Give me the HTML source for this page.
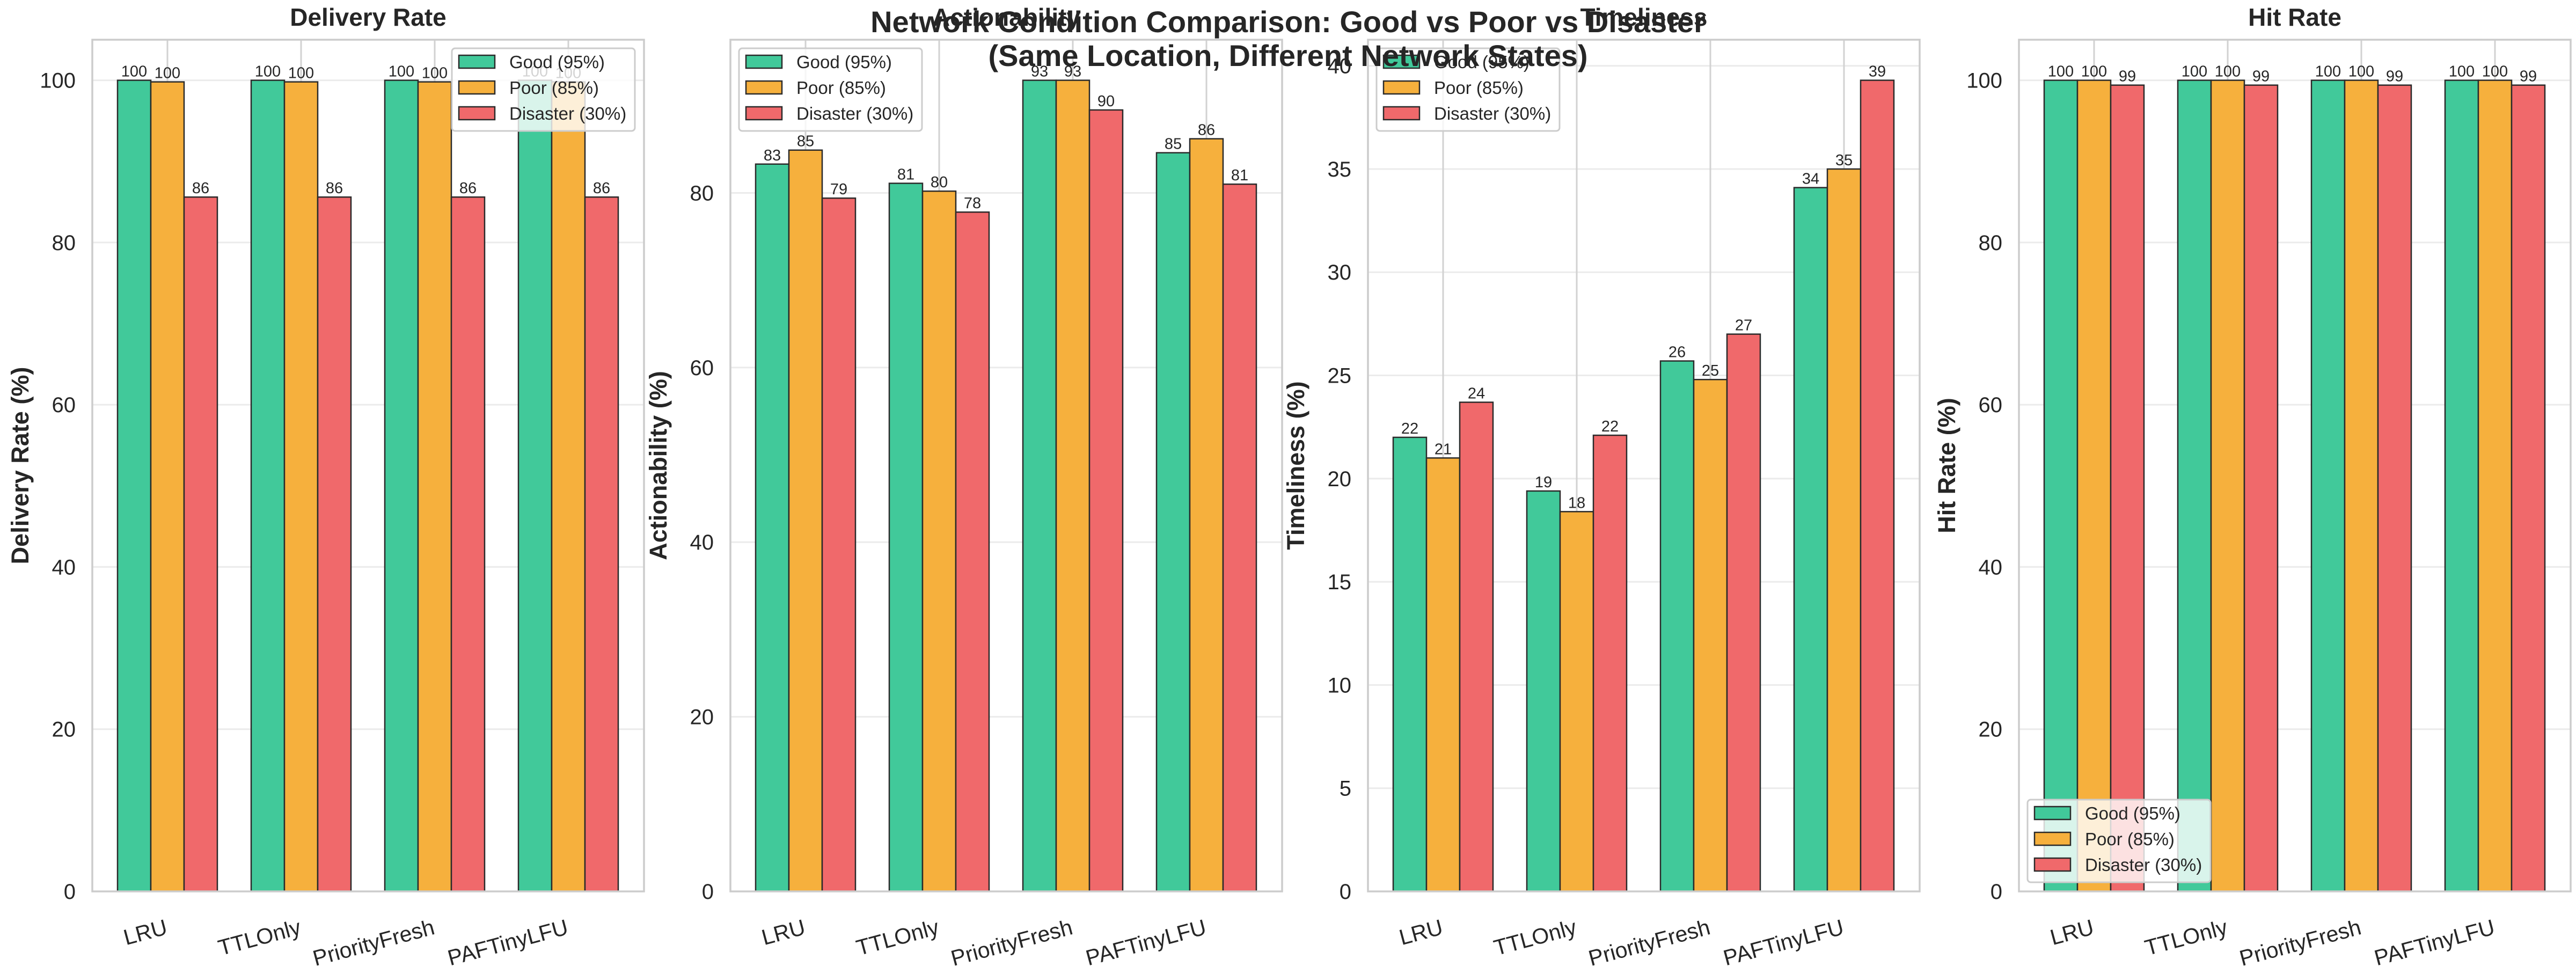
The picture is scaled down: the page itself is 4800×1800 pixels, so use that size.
<!DOCTYPE html>
<html><head><meta charset="utf-8"><style>
html,body{margin:0;padding:0;background:#fff;}
svg{display:block;font-family:"Liberation Sans",Arial,sans-serif;}
</style></head><body>
<svg id="chart" width="4800" height="1800" viewBox="0 0 4800 1800" xmlns="http://www.w3.org/2000/svg">
<rect width="4800" height="1800" fill="#fff"/>
</svg>
<script>
const categories = ["LRU","TTLOnly","PriorityFresh","PAFTinyLFU"];
const seriesNames = ["Good (95%)","Poor (85%)","Disaster (30%)"];
const deliveryGood = [100,100,100,100];
const deliveryPoor = [99.8,99.8,99.8,99.8];
const deliveryDisaster = [85.6,85.6,85.6,85.6];
const actionGood = [83.3,81.1,92.9,84.6];
const actionPoor = [84.9,80.2,92.9,86.2];
const actionDisaster = [79.4,77.8,89.5,81.0];
const timeGood = [22.0,19.4,25.7,34.1];
const timePoor = [21.0,18.4,24.8,35.0];
const timeDisaster = [23.7,22.1,27.0,39.3];
const hitGood = [100,100,100,100];
const hitPoor = [100,100,100,100];
const hitDisaster = [99.4,99.4,99.4,99.4];
const ticksDelivery = [0,20,40,60,80,100];
const ticksAction = [0,20,40,60,80];
const ticksTime = [0,5,10,15,20,25,30,35,40];
const ticksHit = [0,20,40,60,80,100];

const colors = ["#41c99a","#f6b03d","#f0696b"];
const NS = "http://www.w3.org/2000/svg";
const svg = document.getElementById("chart");
function mk(tag, attrs, parent){const e=document.createElementNS(NS,tag);for(const k in attrs)e.setAttribute(k,attrs[k]);(parent||svg).appendChild(e);return e;}

const panels = [
 {title:"Delivery Rate", ylabel:"Delivery Rate (%)", left:172, series:[deliveryGood,deliveryPoor,deliveryDisaster], ticks:ticksDelivery, legend:"ur"},
 {title:"Actionability", ylabel:"Actionability (%)", left:1361, series:[actionGood,actionPoor,actionDisaster], ticks:ticksAction, legend:"ul"},
 {title:"Timeliness", ylabel:"Timeliness (%)", left:2549, series:[timeGood,timePoor,timeDisaster], ticks:ticksTime, legend:"ul"},
 {title:"Hit Rate", ylabel:"Hit Rate (%)", left:3762, series:[hitGood,hitPoor,hitDisaster], ticks:ticksHit, legend:"ll"}
];
const W = 1028, topY = 74, bottomY = 1661;

panels.forEach((p, pi) => {
  const g = mk("g", {});
  
  
  let maxV = 0; p.series.forEach(s => s.forEach(v => { if (v > maxV) maxV = v; }));
  const ymax = maxV * 1.05;
  const y = v => bottomY - (v / ymax) * (bottomY - topY);
  const step = 249;
  const x = i => p.left + 140 + i * step;
  const bw = 62;
  p.ticks.forEach(t => {
    const l = mk("line", {x1:p.left, x2:p.left+W, y1:y(t), y2:y(t), stroke:"#ebebeb", "stroke-width":3}, g);
    
    
    const tl = mk("text", {x:p.left-31, y:y(t)+14, "text-anchor":"end", "font-size":40, fill:"#262626"}, g);
    tl.textContent = t;
    
    
  });
  categories.forEach((c, i) => {
    const l = mk("line", {x1:x(i), x2:x(i), y1:topY, y2:bottomY, stroke:"#d2d2d2", "stroke-width":3}, g);
    
    
    const tl = mk("text", {x:0, y:0, "text-anchor":"end", "font-size":41, fill:"#262626", transform:`translate(${x(i)+2},${1740}) rotate(-15)`}, g);
    tl.textContent = c;
    
    
  });
  p.series.forEach((s, si) => {
    s.forEach((v, i) => {
      const cx = x(i) + (si - 1) * bw;
      const r = mk("rect", {x:cx - bw/2, y:y(v), width:bw, height:bottomY - y(v), fill:colors[si], stroke:"#2a2a2a", "stroke-width":2.5}, g);
      
      
      const t = mk("text", {x:cx, y:y(v)-7, "text-anchor":"middle", "font-size":29, fill:"#262626"}, g);
      t.textContent = Math.round(v);
      
      
    });
  });
  const sp = mk("rect", {x:p.left, y:topY, width:W, height:bottomY-topY, fill:"none", stroke:"#cccccc", "stroke-width":3.5}, g);
  
  
  const ti = mk("text", {x:p.left+W/2, y:48, "text-anchor":"middle", "font-size":46, "font-weight":"bold", fill:"#262626"}, g);
  ti.textContent = p.title;
  
  
  const yl = mk("text", {x:0, y:0, "text-anchor":"middle", "font-size":45, "font-weight":"bold", fill:"#262626", transform:`translate(${p.left-119},${(topY+bottomY)/2}) rotate(-90)`}, g);
  yl.textContent = p.ylabel;
  
  
  let lx, ly;
  if (p.legend === "ur") { lx = p.left + W - 358; ly = 90; }
  else if (p.legend === "ul") { lx = p.left + 16; ly = 90; }
  else { lx = p.left + 16; ly = 1490; }
  const lg = mk("g", {}, g);
  
  
  mk("rect", {x:lx, y:ly, width:341, height:154, rx:6, fill:"#fff", "fill-opacity":0.8, stroke:"#cccccc", "stroke-width":3}, lg);
  seriesNames.forEach((n, si) => {
    const e = mk("g", {}, lg);
    
    
    mk("rect", {x:lx+13, y:ly+13+si*48, width:67, height:24, fill:colors[si], stroke:"#2a2a2a", "stroke-width":2.5}, e);
    const t = mk("text", {x:lx+107, y:ly+37+si*48, "font-size":33, fill:"#262626"}, e);
    t.textContent = n;
  });
});

const s1 = mk("text", {x:2400, y:60, "text-anchor":"middle", "font-size":56, "font-weight":"bold", fill:"#262626"});
s1.textContent = "Network Condition Comparison: Good vs Poor vs Disaster";


const s2 = mk("text", {x:2400, y:123, "text-anchor":"middle", "font-size":56, "font-weight":"bold", fill:"#262626"});
s2.textContent = "(Same Location, Different Network States)";


</script>
</body></html>
